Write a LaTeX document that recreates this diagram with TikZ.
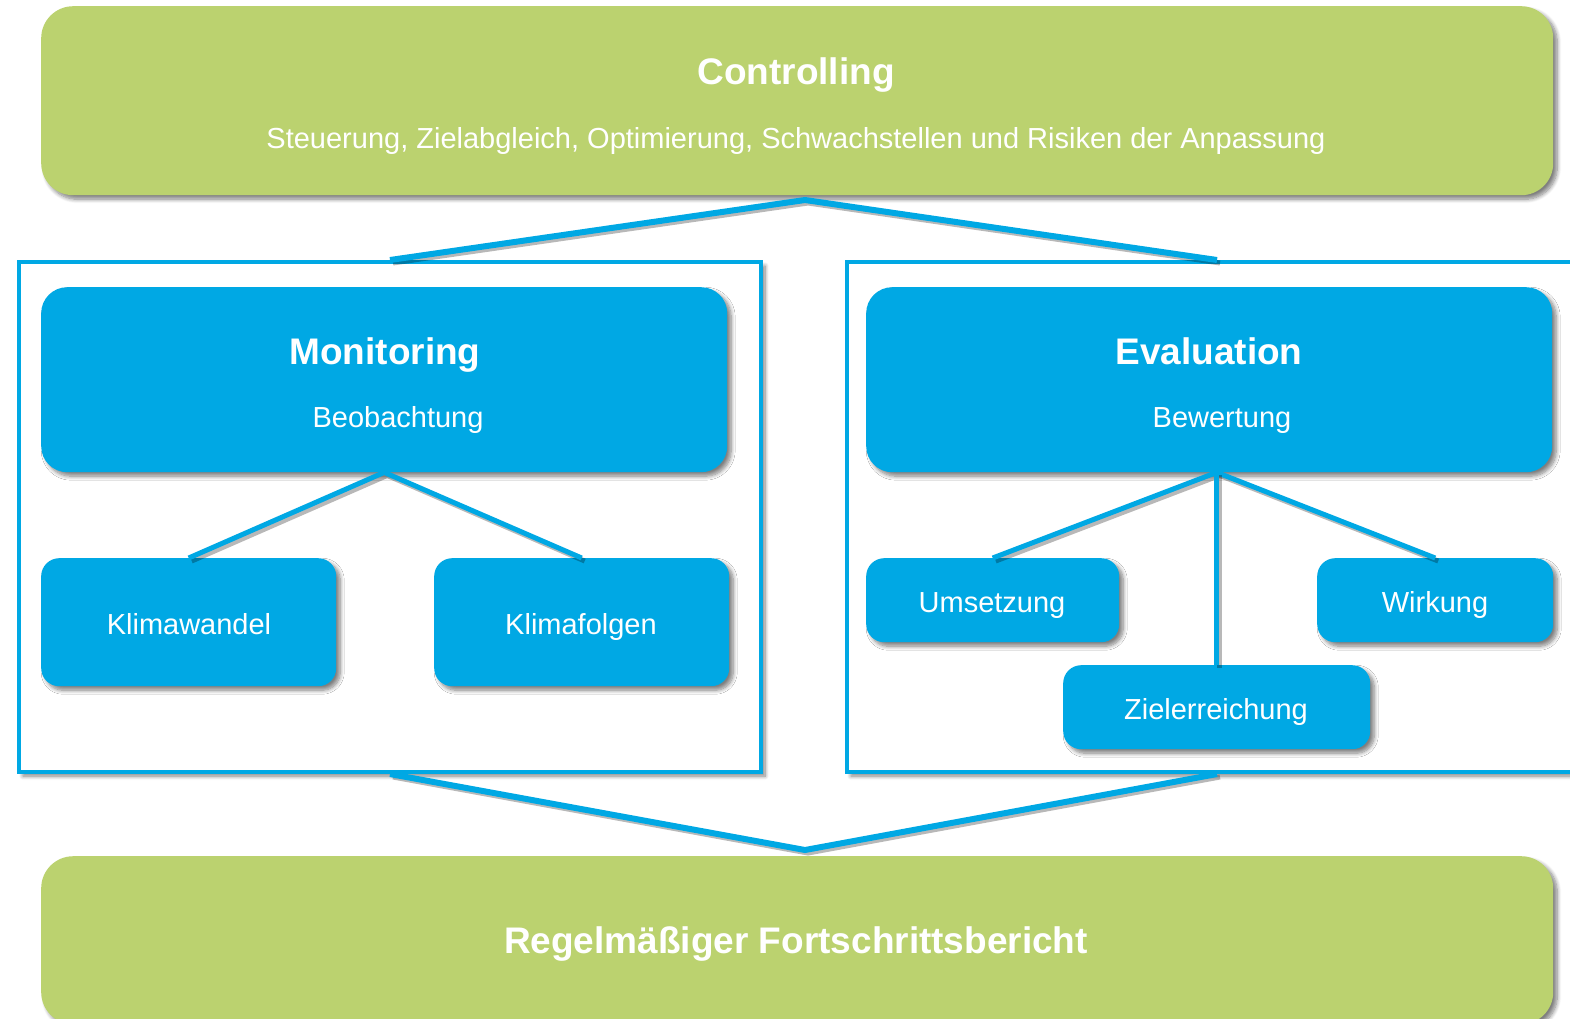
\documentclass[tikz,border=0pt]{standalone}
\usepackage{fontspec}
\setmainfont{Liberation Sans}
\usetikzlibrary{shadows.blur,calc}
\definecolor{lgreen}{RGB}{187,210,111}
\definecolor{lblue}{RGB}{0,168,228}
\begin{document}
\begin{tikzpicture}[x=1pt,y=-1pt,
  shd/.style={blur shadow={shadow xshift=4pt,shadow yshift=-4pt,shadow blur radius=4pt,shadow blur steps=8,shadow opacity=50}},
  gbox/.style={rectangle,rounded corners=32pt,fill=lgreen,shd,anchor=north west,inner sep=0pt},
  bbox/.style={rectangle,rounded corners=26pt,fill=lblue,shd,anchor=north west,inner sep=0pt},
  sbox/.style={rectangle,rounded corners=18pt,fill=lblue,shd,anchor=north west,inner sep=0pt},
  framebox/.style={rectangle,draw=lblue,line width=4pt,fill=white,shd,anchor=north west,inner sep=0pt},
  ttl/.style={text=white,font=\fontsize{37}{44}\selectfont\bfseries,inner sep=0pt,text height=26.5pt,text depth=0pt},
  sub/.style={text=white,font=\fontsize{29}{35}\selectfont,inner sep=0pt,text height=20.8pt,text depth=0pt},
  conn/.style={draw=lblue,line width=5pt,line join=miter,
    preaction={draw=black,opacity=0.28,line width=5pt,transform canvas={shift={(3pt,-3pt)}}}},
  bigconn/.style={conn,line width=6pt}]
\useasboundingbox (0,0) rectangle (1570,1018);

% green boxes
\node[gbox,minimum width=1512pt,minimum height=189pt] (ctrl) at (41,6) {};
\node[ttl] (ctrlt) at (796,71) {Controlling};
\node[sub] (ctrls) at (796,138) {Steuerung, Zielabgleich, Optimierung, Schwachstellen und Risiken der Anpassung};

\node[gbox,minimum width=1512pt,minimum height=168pt] (report) at (41,856) {};
\node[ttl] (reportt) at (796,940) {Regelmäßiger Fortschrittsbericht};

% frames
\node[framebox,minimum width=742pt,minimum height=510pt] (lframe) at (17,260) {};
\node[framebox,minimum width=740pt,minimum height=510pt] (rframe) at (845,260) {};

% Monitoring
\node[bbox,minimum width=686pt,minimum height=185pt] (mon) at (41,287) {};
\node[ttl] (mont) at (385,351) {Monitoring};
\node[sub] (mons) at (398,417) {Beobachtung};
\node[sbox,minimum width=295pt,minimum height=128pt] (kw) at (41,558) {};
\node[sub] (kwt) at (189,624) {Klimawandel};
\node[sbox,minimum width=295pt,minimum height=128pt] (kf) at (434,558) {};
\node[sub] (kft) at (581,624) {Klimafolgen};

% Evaluation
\node[bbox,minimum width=686pt,minimum height=185pt] (eval) at (866,287) {};
\node[ttl] (evalt) at (1209,351) {Evaluation};
\node[sub] (evals) at (1222,417) {Bewertung};
\node[sbox,minimum width=253pt,minimum height=84pt] (ums) at (866,558) {};
\node[sub] (umst) at (992,602) {Umsetzung};
\node[sbox,minimum width=236pt,minimum height=84pt] (wirk) at (1317,558) {};
\node[sub] (wirkt) at (1435,602) {Wirkung};
\node[sbox,minimum width=307pt,minimum height=84pt] (ziel) at (1063,665) {};
\node[sub] (zielt) at (1216,709) {Zielerreichung};

% connectors
\coordinate (topapex) at (805,200);
\coordinate (botapex) at (805,850);
\coordinate (evapex) at (ziel.north |- eval.south);
\draw[bigconn] (lframe.north) -- (topapex) -- (rframe.north);
\draw[bigconn] (lframe.south) -- (botapex) -- (rframe.south);
\draw[conn] (kw.north) -- (mon.south) -- (kf.north);
\draw[conn] (ums.north) -- (evapex) -- (wirk.north);
\draw[conn] (evapex) -- (ziel.north);
\end{tikzpicture}
\end{document}
